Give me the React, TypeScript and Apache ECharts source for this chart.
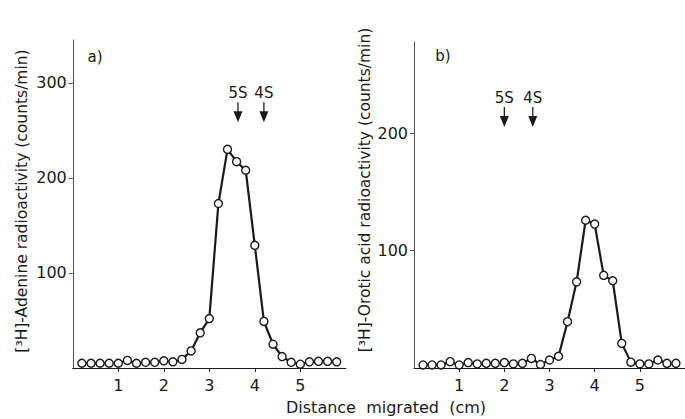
import React, { useEffect, useRef } from "react";
import * as echarts from "echarts";

// Distance migrated (cm), sampled every 0.2 cm
const distances = [0.2, 0.4, 0.6, 0.8, 1.0, 1.2, 1.4, 1.6, 1.8, 2.0, 2.2, 2.4, 2.6, 2.8, 3.0, 3.2, 3.4, 3.6, 3.8, 4.0, 4.2, 4.4, 4.6, 4.8, 5.0, 5.2, 5.4, 5.6, 5.8];
// Panel a: [3H]-Adenine radioactivity (counts/min)
const adenine = [5, 5, 5, 5, 5, 8, 5, 6, 6, 7.5, 6.5, 9, 18, 37, 52, 173, 230, 217, 208, 129, 49, 25, 12, 6, 4, 6.5, 7, 7, 6.5];
// Panel b: [3H]-Orotic acid radioactivity (counts/min)
const orotic = [2.6, 2.6, 2.6, 5.4, 2.6, 4.6, 3.5, 4, 4, 4.6, 3.5, 4, 8.2, 3, 6.8, 10, 39.5, 73.5, 126, 122.7, 79, 74.4, 21, 5, 3.5, 3.5, 6.8, 4, 4];
// Marker arrows (position in cm)
const markersA = [{ name: "5S", x: 3.63 }, { name: "4S", x: 4.2 }];
const markersB = [{ name: "5S", x: 2.0 }, { name: "4S", x: 2.63 }];
const arrowLevelA = 269;
const arrowLevelB = 214;
const xTicks = [1, 2, 3, 4, 5];
const yTicksA = [100, 200, 300];
const yTicksB = [100, 200];

const FONT = "DejaVu Sans";
const INK = "#1a1a1a";
const ARROW = "path://M4.3,0 L5.7,0 L5.7,9 L10,9 L5,20 L0,9 L4.3,9 Z";

export default function App() {
  const ref = useRef<HTMLDivElement>(null);
  useEffect(() => {
    if (!ref.current) return;
    const chart = echarts.init(ref.current, null, { renderer: "svg" });
    const xAxisBase = (gridIndex: number) => ({
      type: "value",
      gridIndex,
      min: 0,
      max: 6,
      interval: 1,
      splitLine: { show: false },
      axisLine: { lineStyle: { color: INK, width: 1.2 } },
      axisTick: { customValues: xTicks, length: 4, lineStyle: { color: INK } },
      axisLabel: { customValues: xTicks, color: INK, fontFamily: FONT, fontSize: 16, margin: 9 },
    });
    const yAxisBase = (gridIndex: number, max: number, ticks: number[]) => ({
      type: "value",
      gridIndex,
      min: 0,
      max,
      interval: 100,
      splitLine: { show: false },
      axisLine: { show: true, lineStyle: { color: "#555", width: 1 } },
      axisTick: { customValues: ticks, length: 4, lineStyle: { color: "#555" } },
      axisLabel: { customValues: ticks, color: INK, fontFamily: FONT, fontSize: 16, margin: 6 },
    });
    const lineSeries = (idx: number, values: number[]) => ({
      type: "line",
      xAxisIndex: idx,
      yAxisIndex: idx,
      data: distances.map((d, i) => [d, values[i]]),
      symbol: "circle",
      symbolSize: 8,
      showAllSymbol: true,
      lineStyle: { color: INK, width: 2.2 },
      itemStyle: { color: "#fff", borderColor: INK, borderWidth: 1.4, opacity: 1 },
      clip: false,
      z: 3,
    });
    const arrowSeries = (idx: number, markers: { name: string; x: number }[], level: number) => ({
      type: "scatter",
      xAxisIndex: idx,
      yAxisIndex: idx,
      symbol: ARROW,
      symbolSize: [9, 20],
      itemStyle: { color: INK, opacity: 1 },
      data: markers.map((m) => ({ name: m.name, value: [m.x, level] })),
      label: {
        show: true,
        position: "top",
        distance: 2,
        formatter: "{b}",
        color: INK,
        fontFamily: FONT,
        fontSize: 15,
      },
    });
    chart.setOption({
      animation: false,
      backgroundColor: "#fff",
      grid: [
        { left: 72.8, top: 40, width: 273, height: 328 },
        { left: 414, top: 42, width: 276, height: 326 },
      ],
      xAxis: [xAxisBase(0), xAxisBase(1)],
      yAxis: [yAxisBase(0, 345, yTicksA), yAxisBase(1, 278, yTicksB)],
      series: [
        lineSeries(0, adenine),
        lineSeries(1, orotic),
        arrowSeries(0, markersA, arrowLevelA),
        arrowSeries(1, markersB, arrowLevelB),
      ],
      graphic: [
        { type: "text", x: 95, y: 57, style: { text: "a)", fill: INK, font: `15px '${FONT}'`, align: "center", verticalAlign: "middle" } },
        { type: "text", x: 443, y: 56, style: { text: "b)", fill: INK, font: `15px '${FONT}'`, align: "center", verticalAlign: "middle" } },
        {
          type: "text", x: 22, y: 201, rotation: Math.PI / 2,
          style: { text: "[³H]-Adenine radioactivity (counts/min)", fill: INK, font: `15.5px '${FONT}'`, align: "center", verticalAlign: "middle" },
        },
        {
          type: "text", x: 365, y: 190, rotation: Math.PI / 2,
          style: { text: "[³H]-Orotic acid radioactivity (counts/min)", fill: INK, font: `15.5px '${FONT}'`, align: "center", verticalAlign: "middle" },
        },
        {
          type: "text", x: 386, y: 407,
          style: { text: "Distance\u00a0 migrated\u00a0 (cm)", fill: INK, font: `16px '${FONT}'`, align: "center", verticalAlign: "middle" },
        },
      ],
    });
    return () => chart.dispose();
  }, []);
  return <div ref={ref} style={{ position: "fixed", left: 0, top: 0, width: 685, height: 419 }} />;
}
